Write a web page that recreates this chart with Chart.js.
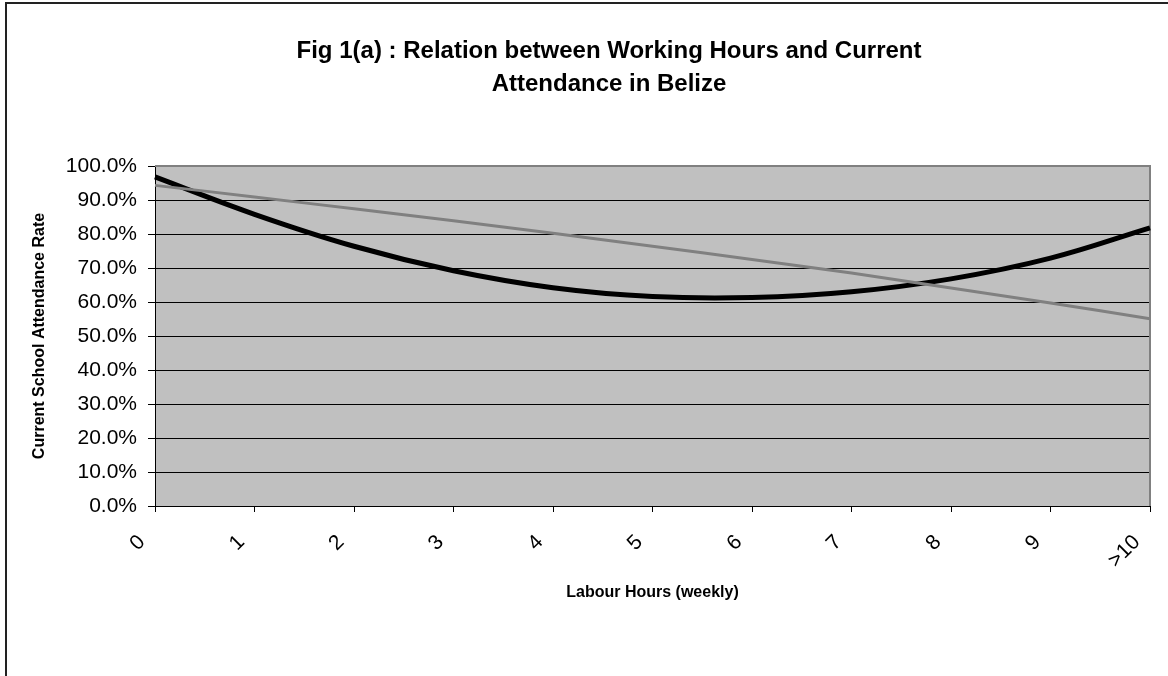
<!DOCTYPE html>
<html>
<head>
<meta charset="utf-8">
<script src="https://cdn.jsdelivr.net/npm/chart.js@4"></script>
<style>
  html, body { margin: 0; padding: 0; background: #fff; }
  #wrap { position: relative; width: 1168px; height: 676px; overflow: hidden; }
  #frame { position: absolute; left: 5px; top: 2px; width: 1200px; height: 700px;
           border-left: 2px solid #222; border-top: 2px solid #222; pointer-events: none; }
  #title { position: absolute; left: 209px; width: 800px; top: 33px; text-align: center;
           font: bold 24px "Liberation Sans", Arial, sans-serif; line-height: 33px; color: #000; }
  canvas { position: absolute; left: 0; top: 0; }
</style>
</head>
<body>
<div id="wrap">
  <canvas id="chart" width="1168" height="676"></canvas>
  <div id="frame"></div>
  <div id="title">Fig 1(a) : Relation between Working Hours and Current<br>Attendance in Belize</div>
</div>
<script>
// categories (weekly labour hours)
const hours = ["0", "1", "2", "3", "4", "5", "6", "7", "8", "9", ">10"];
// attendance rate, %
const curveRate = [96.8, 85.8, 76.4, 69.2, 64.2, 61.6, 61.3, 63.0, 66.8, 72.9, 81.8];
const lineRate  = [94.3, 90.9, 87.4, 83.9, 80.2, 76.4, 72.5, 68.5, 64.1, 59.7, 55.1];
const yTicks = [0, 10, 20, 30, 40, 50, 60, 70, 80, 90, 100];

const plotBg = {
    id: "plotBg",
    beforeDraw(chart) {
        const { ctx, chartArea: a } = chart;
        ctx.save();
        ctx.fillStyle = "#C0C0C0";
        ctx.fillRect(a.left, a.top, a.right - a.left, a.bottom - a.top);
        ctx.restore();
    },
    beforeDatasetsDraw(chart) {
        const { ctx, chartArea: a } = chart;
        ctx.save();
        ctx.strokeStyle = "#808080";
        ctx.lineWidth = 2;
        ctx.beginPath();
        ctx.moveTo(a.left, a.top);
        ctx.lineTo(a.right, a.top);
        ctx.lineTo(a.right, a.bottom);
        ctx.stroke();
        ctx.restore();
    }
};

const font = "'Liberation Sans', Arial, sans-serif";

new Chart(document.getElementById("chart"), {
    type: "line",
    data: {
        labels: hours,
        datasets: [
            {
                label: "Linear trend",
                data: lineRate,
                borderColor: "#808080",
                borderWidth: 3,
                pointRadius: 0,
                tension: 0.4,
                fill: false
            },
            {
                label: "Attendance",
                data: curveRate,
                borderColor: "#000000",
                borderWidth: 5,
                pointRadius: 0,
                tension: 0.4,
                fill: false
            }
        ]
    },
    options: {
        responsive: false,
        animation: false,
        layout: { padding: { left: 0, right: 18, top: 166, bottom: 0 } },
        plugins: {
            legend: { display: false },
            title: { display: false },
            tooltip: { enabled: false }
        },
        scales: {
            x: {
                offset: false,
                afterFit: s => { s.height = 170; s.paddingLeft = 0; s.paddingRight = 0; },
                grid: { drawOnChartArea: false, tickLength: 6, color: "#000" },
                border: { display: true, color: "#000", width: 1 },
                ticks: {
                    autoSkip: false, minRotation: 45, maxRotation: 45,
                    padding: 18, labelOffset: -13,
                    color: "#000", font: { family: font, size: 21 }
                },
                title: {
                    display: true, text: "Labour Hours (weekly)", color: "#000",
                    font: { family: font, size: 16, weight: "bold" },
                    padding: { top: 0, bottom: 74 }
                }
            },
            y: {
                min: 0, max: 100,
                afterFit: s => { s.width = 155; s.paddingTop = 0; s.paddingBottom = 0; },
                afterBuildTicks: s => { s.ticks = yTicks.map(v => ({ value: v })); },
                grid: {
                    tickLength: 7, tickColor: "#000",
                    color: c => (c.tick && c.tick.value === 100 ? "#808080" : "#000")
                },
                border: { display: true, color: "#000", width: 1 },
                ticks: {
                    padding: 11, color: "#000",
                    font: { family: font, size: 21 },
                    callback: v => v.toFixed(1) + "%"
                },
                title: {
                    display: true, text: "Current School Attendance Rate", color: "#000",
                    font: { family: font, size: 16, weight: "bold" },
                    padding: { top: 30, bottom: 0 }
                }
            }
        }
    },
    plugins: [plotBg]
});
</script>
</body>
</html>
